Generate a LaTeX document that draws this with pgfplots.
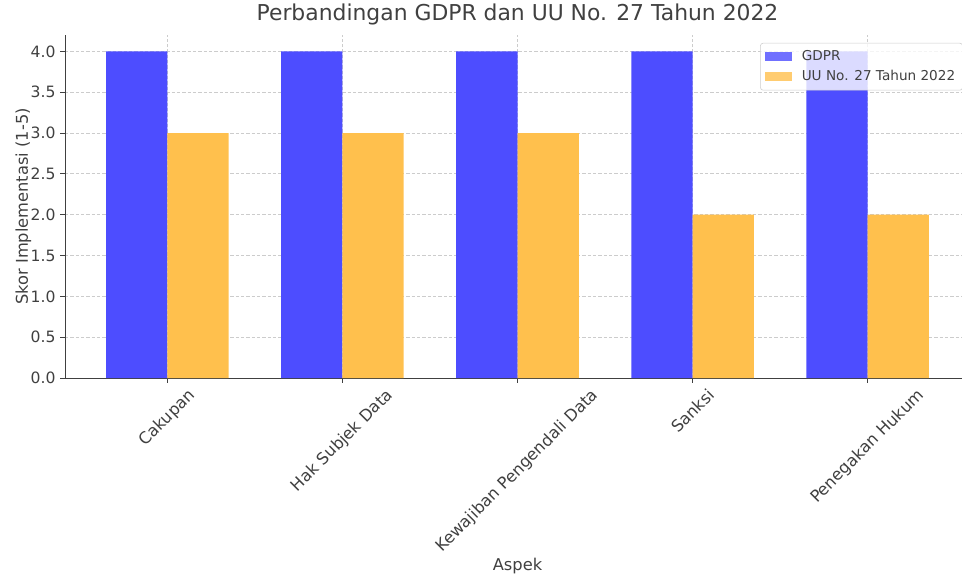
\documentclass[border=0pt]{standalone}
\usepackage{pgfplots}
\pgfplotsset{compat=1.18}
\usepackage{fontspec}
\setmainfont{DejaVu Sans}
\definecolor{gdpr}{RGB}{77,77,255}
\definecolor{uu}{RGB}{255,192,77}
\definecolor{txt}{RGB}{64,64,64}
\begin{document}
\begin{tikzpicture}
\path[use as bounding box] (-48.75bp,-147.75bp) rectangle (672.75bp,283.5bp);
\begin{axis}[
  at={(0,0)}, anchor=south west,
  scale only axis, width=678.75bp, height=257.25bp,
  xmin=-0.585, xmax=4.585, ymin=0, ymax=4.2,
  axis x line*=bottom, axis y line*=left,
  axis line style={-, draw=black!75, line width=0.6bp},
  xtick={0,1,2,3,4},
  xticklabels={\rotatebox{45}{Cakupan},\rotatebox{45}{Hak Subjek Data},\rotatebox{45}{Kewajiban Pengendali Data},\rotatebox{45}{Sanksi},\rotatebox{45}{Penegakan Hukum}},
  ytick={0,0.5,1,1.5,2,2.5,3,3.5,4},
  /pgf/number format/.cd, fixed, fixed zerofill, precision=1, assume math mode=true,
  /pgfplots/.cd,
  tick align=outside, major tick length=3.6bp,
  tick style={draw=black!75, line width=0.6bp},
  xticklabel style={anchor=north, font=\fontsize{12.2bp}{14bp}\selectfont, text=txt},
  yticklabel style={font=\fontsize{11.7bp}{14bp}\selectfont, text=txt},
  grid=major,
  major grid style={draw=black!20, line width=0.6bp, dash pattern=on 2.5bp off 1.5bp},
  title={Perbandingan GDPR dan UU No. 27 Tahun 2022},
  title style={at={(axis description cs:0.5,1.0204)}, anchor=base, yshift=0pt, font=\fontsize{16.4bp}{19bp}\selectfont, text=txt},
  xlabel={Aspek},
  xlabel style={at={(axis description cs:0.5,-0.560)}, anchor=base, font=\fontsize{12.2bp}{14bp}\selectfont, text=txt},
  ylabel={Skor Implementasi (1-5)},
  ylabel style={at={(axis description cs:-0.0409,0.5)}, anchor=base, font=\fontsize{12.2bp}{14bp}\selectfont, text=txt},
  legend style={at={(0.992,0.977)}, anchor=north east, fill=white, fill opacity=0.8, text opacity=1, draw=black!20, rounded corners=2pt, font=\fontsize{10.2bp}{12bp}\selectfont, text=txt, inner xsep=3.5bp, inner ysep=3.5bp, row sep=2bp, /tikz/every odd column/.append style={column sep=5.5bp}},
  legend image code/.code={\fill[#1, sharp corners] (0bp,-3.25bp) rectangle (20bp,3.25bp);},
  legend cell align=left,
]
\addplot[ybar, bar width=0.35, bar shift=-0.175, fill=gdpr, draw=none] coordinates {(0,4) (1,4) (2,4) (3,4) (4,4)};
\addlegendentry{GDPR}
\addplot[ybar, bar width=0.35, bar shift=0.175, fill=uu, draw=none] coordinates {(0,3) (1,3) (2,3) (3,2) (4,2)};
\addlegendentry{UU No. 27 Tahun 2022}
\end{axis}
\end{tikzpicture}
\end{document}
